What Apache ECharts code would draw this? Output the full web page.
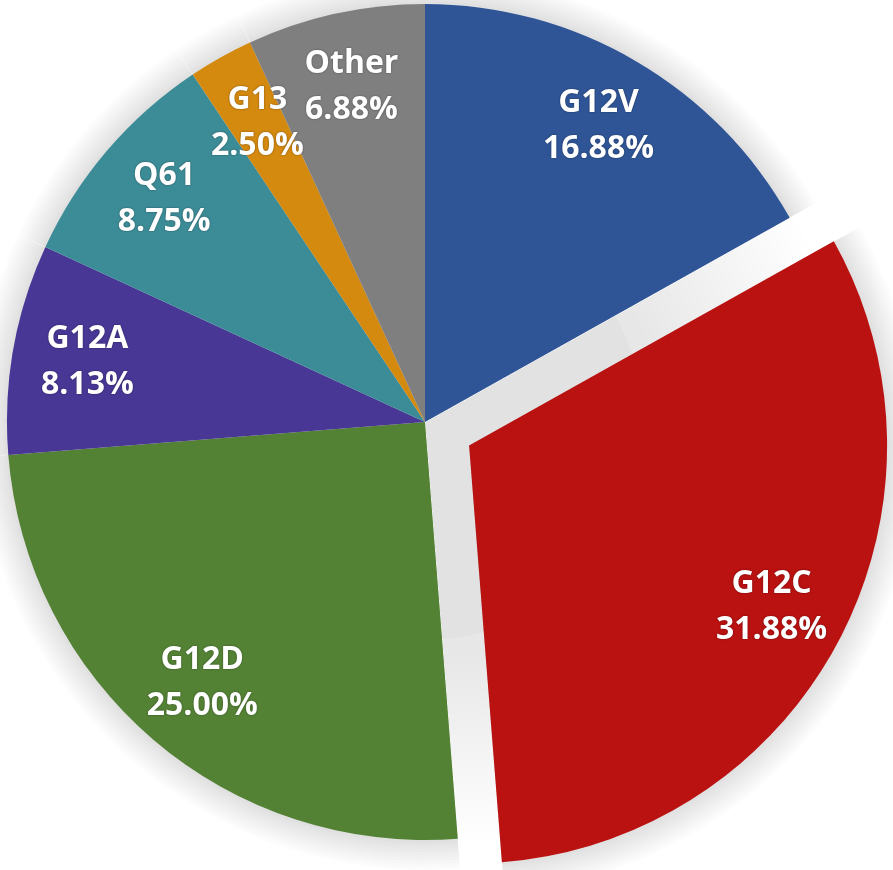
<!DOCTYPE html>
<html>
<head>
<meta charset="utf-8">
<script src="https://cdn.jsdelivr.net/npm/echarts@6/dist/echarts.min.js"></script>
<style>
html,body{margin:0;padding:0;background:#fff;}
#chart{width:893px;height:870px;}
</style>
</head>
<body>
<div id="chart"></div>
<script>
const categories = ['G12V', 'G12C', 'G12D', 'G12A', 'Q61', 'G13', 'Other'];
const values = [16.88, 31.88, 25.00, 8.13, 8.75, 2.50, 6.88];
const colors = ['#2F5597', '#BA1111', '#548235', '#483795', '#3C8C97', '#D4890F', '#7F7F7F'];
const explodedCategory = 'G12C';

const chart = echarts.init(document.getElementById('chart'));
const center = [425, 422];
const R = 418;

function buildData(styleFn, explode) {
  return categories.map((c, i) => ({
    name: c,
    value: values[i],
    selected: explode !== false && c === explodedCategory,
    itemStyle: styleFn(i)
  }));
}

const common = {
  type: 'pie',
  center: center,
  startAngle: 90,
  clockwise: true,
  selectedMode: 'single',
  selectedOffset: 50,
  avoidLabelOverlap: false,
  silent: true,
  emphasis: { disabled: true },
  labelLine: { show: false },
  label: { show: false }
};

const series = [];
function addBack(r, alpha, j) {
  const st = { color: 'rgba(0,0,0,' + alpha + ')', borderWidth: 0 };
  series.push(Object.assign({}, common, {
    name: 'back' + j,
    radius: [0, r],
    z: 1,
    selectedMode: false,
    itemStyle: st,
    data: buildData(i => st, false)
  }));
}
// grey backdrop seen through the exploded gap, fading softly outward
addBack(R - 200, 0.02, 0);
for (let k = 0; k < 24; k++) addBack(R - 180 + k * 8, 0.003, k + 1);

// soft halo (drop-shadow look) built from translucent rings
for (let k = 0; k < 10; k++) {
  const st = { color: 'rgba(0,0,0,0.011)', borderWidth: 0 };
  series.push(Object.assign({}, common, {
    name: 'halo' + k,
    radius: [0, R + 3 + k * 3],
    z: 2,
    itemStyle: st,
    select: { itemStyle: st },
    data: buildData(i => st)
  }));
}
series.push(Object.assign({}, common, {
  name: 'slices',
  radius: [0, R],
  z: 3,
  data: buildData(i => ({ color: colors[i], borderWidth: 0 }))
}));
series.push(Object.assign({}, common, {
  name: 'labels',
  radius: [262, R],
  z: 4,
  label: {
    show: true,
    position: 'inside',
    color: '#ffffff',
    fontFamily: 'Open Sans',
    fontWeight: 'bold',
    fontSize: 32,
    lineHeight: 46,
    textShadowColor: 'rgba(0,0,0,0.45)',
    textShadowBlur: 2,
    formatter: p => p.name + '\n' + p.value.toFixed(2) + '%'
  },
  data: buildData(i => ({ color: 'rgba(0,0,0,0)', borderWidth: 0 }))
}));

chart.setOption({
  animation: false,
  backgroundColor: '#ffffff',
  series: series
});
</script>
</body>
</html>
